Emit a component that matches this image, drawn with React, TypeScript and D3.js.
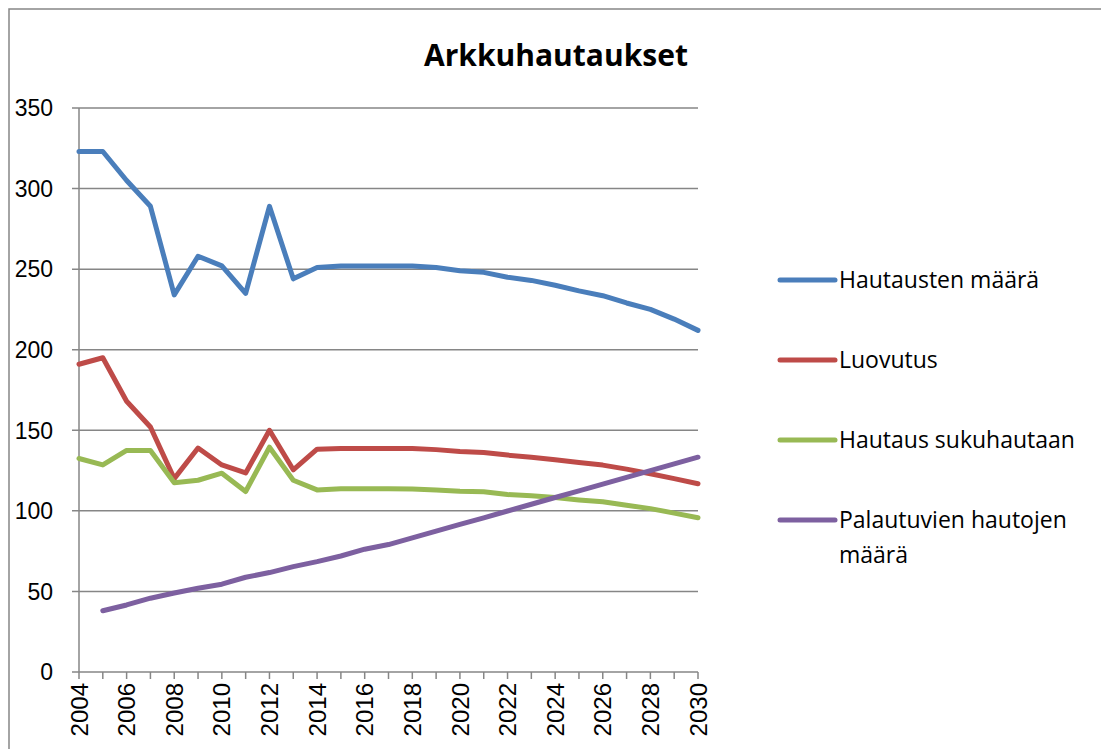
import React, { useEffect, useRef } from 'react';
import * as d3 from 'd3';

// years 2004..2030
const years = d3.range(2004, 2031);

const hautaustenMaara = [323, 323, 305, 289, 234, 258, 252, 235, 289, 244, 251, 252, 252, 252, 252, 251, 249, 248, 245, 243, 240, 236.5, 233.5, 229, 225, 219, 212];
const luovutus = [191, 195, 168, 152, 120, 139, 128.5, 123.5, 150, 125.5, 138.3, 138.7, 138.7, 138.7, 138.7, 138, 136.8, 136.2, 134.6, 133.3, 131.7, 130, 128.4, 125.9, 123, 120, 116.8];
const sukuhauta = [132.5, 128.5, 137.5, 137.5, 117.5, 119, 123.4, 112, 139.5, 119, 113, 113.7, 113.7, 113.7, 113.5, 113, 112.2, 111.8, 110.1, 109.3, 108.3, 106.8, 105.6, 103.5, 101.4, 98.6, 95.7];
const palautuvat = [null, 38, 41.6, 45.8, 49, 52, 54.5, 58.8, 61.7, 65.4, 68.5, 72, 76.2, 79.1, 83.2, 87.4, 91.6, 95.7, 99.9, 104.1, 108.3, 112.4, 116.6, 120.8, 125, 129.1, 133.3];

const seriesNames = ['Hautausten määrä', 'Luovutus', 'Hautaus sukuhautaan', 'Palautuvien hautojen määrä'];
const seriesColors = ['#4a7ebb', '#be4b48', '#98b954', '#7d60a0'];
const seriesValues = [hautaustenMaara, luovutus, sukuhauta, palautuvat];
const yTicks = [0, 50, 100, 150, 200, 250, 300, 350];

const W = 1101;
const H = 749;

export default function App() {
  const svgRef = useRef<SVGSVGElement>(null);

  useEffect(() => {
    const svg = d3.select(svgRef.current);
    svg.selectAll('*').remove();

    const left = 79, right = 698, top = 108, bottom = 672;
    const x = d3.scaleLinear().domain([2004, 2030]).range([left, right]);
    const y = d3.scaleLinear().domain([0, 350]).range([bottom, top]);
    const grey = '#868686';

    // outer frame
    svg.append('rect')
      .attr('x', 9).attr('y', 9)
      .attr('width', W + 20).attr('height', H + 20)
      .attr('fill', 'none').attr('stroke', grey).attr('stroke-width', 1.5);

    svg.append('text')
      .attr('x', 556).attr('y', 66)
      .attr('text-anchor', 'middle')
      .style('font-family', '"Open Sans", sans-serif')
      .style('font-weight', 'bold')
      .style('font-size', '30px')
      .text('Arkkuhautaukset');

    // gridlines + y labels
    const yAxis = svg.append('g');
    yTicks.forEach(t => {
      yAxis.append('line')
        .attr('x1', left - 7).attr('x2', right)
        .attr('y1', y(t)).attr('y2', y(t))
        .attr('stroke', grey).attr('stroke-width', 1.5);
      yAxis.append('text')
        .attr('x', 53).attr('y', y(t))
        .attr('dy', '0.36em')
        .attr('text-anchor', 'end')
        .style('font-family', '"Liberation Sans", Arial, sans-serif')
        .style('font-size', '23px')
        .text(t);
    });
    yAxis.append('line')
      .attr('x1', left).attr('x2', left)
      .attr('y1', top).attr('y2', bottom)
      .attr('stroke', grey).attr('stroke-width', 1.5);

    // x ticks + labels
    const xAxis = svg.append('g');
    years.forEach(yr => {
      xAxis.append('line')
        .attr('x1', x(yr)).attr('x2', x(yr))
        .attr('y1', bottom).attr('y2', bottom + 7)
        .attr('stroke', grey).attr('stroke-width', 1.5);
    });
    years.filter(yr => yr % 2 === 0).forEach(yr => {
      xAxis.append('text')
        .attr('transform', `translate(${x(yr)},${bottom + 11}) rotate(-90)`)
        .attr('dy', '0.36em')
        .attr('text-anchor', 'end')
        .style('font-family', '"Liberation Sans", Arial, sans-serif')
        .style('font-size', '24px')
        .text(yr);
    });

    const line = d3.line<number | null>()
      .defined(d => d !== null)
      .x((_, i) => x(years[i]))
      .y(d => y(d as number));

    seriesValues.forEach((vals, i) => {
      svg.append('path')
        .attr('d', line(vals))
        .attr('fill', 'none')
        .attr('stroke', seriesColors[i])
        .attr('stroke-width', 5)
        .attr('stroke-linejoin', 'round')
        .attr('stroke-linecap', 'round');
    });

    // legend
    const legendY = [280, 360, 440, 520];
    seriesNames.forEach((name, i) => {
      const g = svg.append('g').attr('transform', `translate(780,${legendY[i]})`);
      g.append('line')
        .attr('x1', 0).attr('x2', 55)
        .attr('stroke', seriesColors[i]).attr('stroke-width', 5)
        .attr('stroke-linecap', 'round');
      const txt = g.append('text')
        .attr('x', 59).attr('y', 0)
        .attr('dy', '0.35em')
        .style('font-family', '"Open Sans", sans-serif')
        .style('font-size', '23px');
      if (i === 3) {
        txt.append('tspan').attr('x', 59).text('Palautuvien hautojen');
        txt.append('tspan').attr('x', 59).attr('dy', '1.5em').text('määrä');
      } else {
        txt.text(name);
      }
    });
  }, []);

  return (
    <div style={{ position: 'absolute', left: 0, top: 0, width: W, height: H, overflow: 'hidden', background: '#fff' }}>
      <svg ref={svgRef} width={W} height={H} style={{ display: 'block' }} />
    </div>
  );
}
